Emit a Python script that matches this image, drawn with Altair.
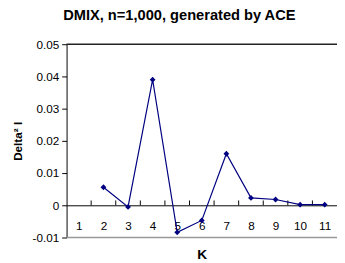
import altair as alt
import pandas as pd

# data
k_values = [2, 3, 4, 5, 6, 7, 8, 9, 10, 11]
delta2_values = [0.0056, -0.0005, 0.0390, -0.0084, -0.0047, 0.0160, 0.0023, 0.0018, 0.0002, 0.0002]
x_tick_labels = [1, 2, 3, 4, 5, 6, 7, 8, 9, 10, 11]
x_inner_ticks = [1.5, 2.5, 3.5, 4.5, 5.5, 6.5, 7.5, 8.5, 9.5, 10.5]
y_tick_values = [-0.01, 0, 0.01, 0.02, 0.03, 0.04, 0.05]

FONT = "Liberation Sans"
NAVY = "#000080"

df = pd.DataFrame({"K": k_values, "D": delta2_values})
ticks_df = pd.DataFrame({"K": x_inner_ticks, "D": [0.0] * len(x_inner_ticks), "D2": [0.0015] * len(x_inner_ticks)})
border_df = pd.DataFrame({"K": [0.5, 0.5], "K2": [11.5, 11.5], "D": [0.05, -0.01], "c": ["top", "bottom"]})

xscale = alt.Scale(domain=[0.5, 11.5], nice=False, zero=False)
yscale = alt.Scale(domain=[-0.01, 0.05], nice=False, zero=False)

ylabel_expr = ("datum.value < -0.0001 ? '-' + format(-datum.value, '.2f') : "
               "(abs(datum.value) < 0.0001 ? '0' : format(datum.value, '.2f'))")

x_axis = alt.Axis(values=x_tick_labels, ticks=False, grid=False, domain=True,
                  domainColor="#000", domainWidth=1, labelFont=FONT, labelFontSize=12,
                  labelColor="#000", labelPadding=16, offset=-33, labelOverlap=False,
                  title="K", titleFont=FONT, titleFontSize=14, titleFontWeight="bold",
                  titleColor="#000", titlePadding=17, labelFlush=False)
y_axis = alt.Axis(values=y_tick_values, labelExpr=ylabel_expr, grid=False,
                  domainColor="#000", tickColor="#000", tickSize=5, labelPadding=3,
                  labelFont=FONT, labelFontSize=12, labelColor="#000", labelOverlap=False,
                  labelFlush=False,
                  title="Delta² I", titleFont=FONT, titleFontSize=12, titleFontWeight="bold",
                  titleColor="#000", titlePadding=8)

X = alt.X("K:Q", scale=xscale, axis=x_axis)
Y = alt.Y("D:Q", scale=yscale, axis=y_axis)

borders = alt.Chart(border_df).mark_rule(strokeWidth=1.5).encode(
    x=X, x2="K2:Q", y=Y,
    color=alt.Color("c:N", scale=alt.Scale(domain=["top", "bottom"], range=["#222222", "#999999"]), legend=None))

inner_ticks = alt.Chart(ticks_df).mark_rule(color="#000", strokeWidth=1).encode(
    x=X, y=Y, y2="D2:Q")

line = alt.Chart(df).mark_line(color=NAVY, strokeWidth=1.2).encode(x=X, y=Y)
points = alt.Chart(df).mark_point(shape="diamond", filled=True, color=NAVY, size=35, opacity=1).encode(
    x=X, y=Y)

chart = alt.layer(borders, inner_ticks, line, points).properties(
    width=277, height=198,
    autosize="none",
    padding={"left": 60, "top": 34, "right": 0, "bottom": 23},
    title=alt.Title("DMIX, n=1,000, generated by ACE", font=FONT, fontSize=15, fontWeight="bold",
                    color="#000", anchor="middle", offset=16, dx=-23),
).configure_view(stroke=None)

chart.save("out.html", embed_options={"renderer": "svg", "actions": False})
